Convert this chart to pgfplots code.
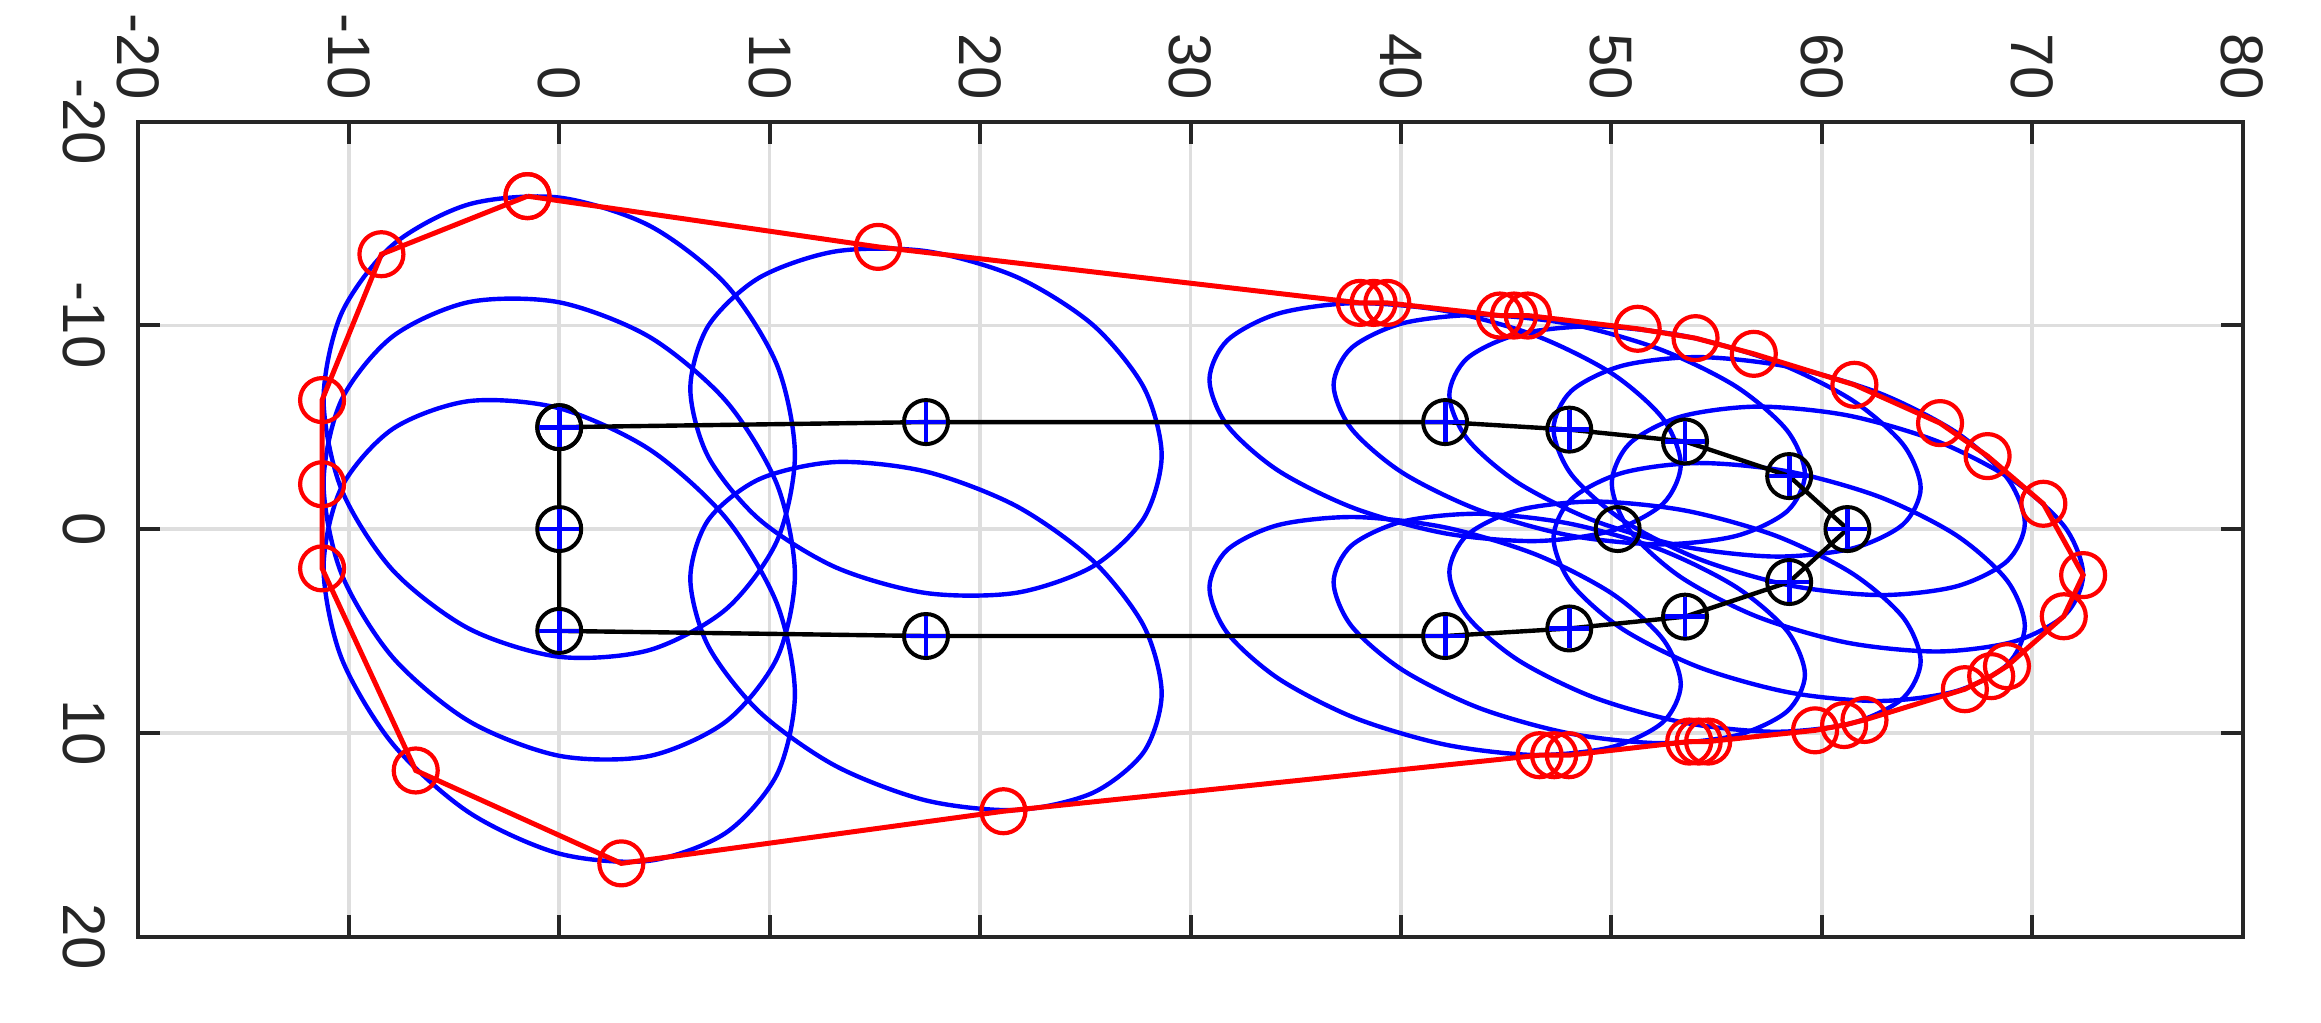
\documentclass[border=0pt]{standalone}
\usepackage{fontspec}
\setmainfont{Liberation Sans}
\usepackage{pgfplots}
\pgfplotsset{compat=1.18}

\definecolor{axgray}{rgb}{0.15,0.15,0.15}
\definecolor{gridgray}{rgb}{0.87,0.87,0.87}

\begin{document}
\begin{tikzpicture}
\begin{axis}[
  name=ax,
  scale only axis,
  width=526.1pt, height=203.75pt,
  xmin=-20, xmax=80, ymin=-20, ymax=20,
  y dir=reverse,
  xtick={-20,-10,...,80},
  ytick={-20,-10,...,20},
  xticklabels={-20,-10,0,10,20,30,40,50,60,70,80},
  yticklabels={-20,-10,0,10,20},
  xticklabel pos=top,
  tick align=inside,
  major tick length=5.5pt,
  axis line style={axgray, line width=1pt},
  tick style={axgray, line width=1pt},
  grid=major,
  grid style={gridgray, line width=0.9pt},
  ticklabel style={font=\fontsize{15}{18}\selectfont, text=axgray, inner sep=0pt},
  xticklabel style={rotate=-90, anchor=east},
  yticklabel style={rotate=-90, anchor=north},
  xticklabel shift=5.2pt,
  yticklabel shift=8.1pt,
  ellipse/.style={blue, line width=1.1pt, smooth cycle},
]
% uncertainty ellipses (closed smooth curves, each list starts on a flat side)
\addplot[ellipse] coordinates {
 (0,6.27) (-4.29,4.89) (-7.92,2.01) (-10.35,-1.95) (-11.20,-6.37) (-10.35,-10.58) (-7.92,-13.94) (-4.29,-15.94)
 (0,-16.27) (4.29,-14.89) (7.92,-12.01) (10.35,-8.05) (11.20,-3.64) (10.35,0.58) (7.92,3.94) (4.29,5.94)};
\addplot[ellipse] coordinates {
 (0,11.13) (-4.29,9.43) (-7.92,6.29) (-10.35,2.19) (-11.20,-2.24) (-10.35,-6.33) (-7.92,-9.45) (-4.29,-11.14)
 (0,-11.13) (4.29,-9.43) (7.92,-6.29) (10.35,-2.19) (11.20,2.24) (10.35,6.33) (7.92,9.45) (4.29,11.14)};
\addplot[ellipse] coordinates {
 (0,15.93) (-4.29,13.91) (-7.92,10.54) (-10.35,6.33) (-11.20,1.91) (-10.35,-2.04) (-7.92,-4.91) (-4.29,-6.28)
 (0,-5.93) (4.29,-3.91) (7.92,-0.54) (10.35,3.67) (11.20,8.09) (10.35,12.04) (7.92,14.91) (4.29,16.28)};
\addplot[ellipse] coordinates {
 (17.43,3.14) (13.14,1.88) (9.51,-0.47) (7.08,-3.55) (6.23,-6.89) (7.08,-9.97) (9.51,-12.34) (13.14,-13.63)
 (17.43,-13.64) (21.72,-12.38) (25.35,-10.03) (27.78,-6.95) (28.63,-3.62) (27.78,-0.53) (25.35,1.84) (21.72,3.13)};
\addplot[ellipse] coordinates {
 (17.43,13.32) (13.14,11.63) (9.51,8.97) (7.08,5.74) (6.23,2.43) (7.08,-0.44) (9.51,-2.45) (13.14,-3.29)
 (17.43,-2.82) (21.72,-1.13) (25.35,1.54) (27.78,4.76) (28.63,8.07) (27.78,10.94) (25.35,12.95) (21.72,13.79)};
\addplot[ellipse] coordinates {
 (42.10,0.21) (37.81,-1.01) (34.18,-2.86) (31.75,-5.08) (30.90,-7.33) (31.75,-9.26) (34.18,-10.58) (37.81,-11.09)
 (42.10,-10.71) (46.39,-9.50) (50.02,-7.64) (52.45,-5.42) (53.30,-3.17) (52.45,-1.24) (50.02,0.08) (46.39,0.59)};
\addplot[ellipse] coordinates {
 (42.10,10.58) (37.81,9.27) (34.18,7.34) (31.75,5.10) (30.90,2.88) (31.75,1.02) (34.18,-0.20) (37.81,-0.59)
 (42.10,-0.08) (46.39,1.24) (50.02,3.16) (52.45,5.40) (53.30,7.62) (52.45,9.48) (50.02,10.70) (46.39,11.09)};
\addplot[ellipse] coordinates {
 (48.00,0.31) (43.71,-0.93) (40.08,-2.76) (37.65,-4.92) (36.80,-7.07) (37.65,-8.89) (40.08,-10.10) (43.71,-10.51)
 (48.00,-10.07) (52.29,-8.83) (55.92,-7.00) (58.35,-4.84) (59.20,-2.69) (58.35,-0.87) (55.92,0.34) (52.29,0.75)};
\addplot[ellipse] coordinates {
 (48.00,10.03) (43.71,8.78) (40.08,6.92) (37.65,4.76) (36.80,2.61) (37.65,0.81) (40.08,-0.37) (43.71,-0.75)
 (48.00,-0.27) (52.29,0.99) (55.92,2.84) (58.35,5.00) (59.20,7.15) (58.35,8.95) (55.92,10.13) (52.29,10.51)};
\addplot[ellipse] coordinates {
 (53.50,0.87) (49.21,-0.40) (45.58,-2.26) (43.15,-4.43) (42.30,-6.58) (43.15,-8.38) (45.58,-9.56) (49.21,-9.95)
 (53.50,-9.47) (57.79,-8.20) (61.42,-6.34) (63.85,-4.17) (64.70,-2.02) (63.85,-0.22) (61.42,0.96) (57.79,1.35)};
\addplot[ellipse] coordinates {
 (53.50,9.51) (49.21,8.28) (45.58,6.44) (43.15,4.28) (42.30,2.12) (43.15,0.29) (45.58,-0.93) (49.21,-1.35)
 (53.50,-0.91) (57.79,0.32) (61.42,2.16) (63.85,4.32) (64.70,6.48) (63.85,8.31) (61.42,9.53) (57.79,9.95)};
\addplot[ellipse] coordinates {
 (58.45,2.76) (54.16,1.47) (50.53,-0.44) (48.10,-2.68) (47.25,-4.91) (48.10,-6.78) (50.53,-8.02) (54.16,-8.44)
 (58.45,-7.96) (62.74,-6.67) (66.37,-4.76) (68.80,-2.52) (69.65,-0.29) (68.80,1.58) (66.37,2.82) (62.74,3.24)};
\addplot[ellipse] coordinates {
 (58.45,8.02) (54.16,6.78) (50.53,4.91) (48.10,2.68) (47.25,0.44) (48.10,-1.47) (50.53,-2.76) (54.16,-3.24)
 (58.45,-2.82) (62.74,-1.58) (66.37,0.29) (68.80,2.52) (69.65,4.76) (68.80,6.67) (66.37,7.96) (62.74,8.44)};
\addplot[ellipse] coordinates {
 (61.22,5.58) (56.93,4.30) (53.30,2.36) (50.87,0.07) (50.02,-2.24) (50.87,-4.20) (53.30,-5.52) (56.93,-6.01)
 (61.22,-5.58) (65.51,-4.30) (69.14,-2.36) (71.57,-0.07) (72.42,2.24) (71.57,4.20) (69.14,5.52) (65.51,6.01)};

% outline through the nominal points
\addplot[black, line width=1.1pt, mark=o, mark size=5.5pt, mark options={line width=1pt}] coordinates {
 (0,-5) (17.43,-5.25) (42.1,-5.25) (48,-4.88) (53.5,-4.3) (58.45,-2.6) (61.22,0)
 (58.45,2.6) (53.5,4.3) (48,4.88) (42.1,5.25) (17.43,5.25) (0,5) (0,0) (0,-5)};
\addplot[only marks, black, mark=o, mark size=5.5pt, mark options={line width=1pt}] coordinates {(50.3,0)};

% ellipse centres
\addplot[only marks, blue, mark=+, mark size=5pt, mark options={line width=1.2pt}] coordinates {
 (0,-5) (0,0) (0,5) (17.43,-5.25) (17.43,5.25) (42.1,-5.25) (42.1,5.25) (48,-4.88) (48,4.88)
 (53.5,-4.3) (53.5,4.3) (58.45,-2.6) (58.45,2.6) (61.22,0)};

% convex hull
\addplot[red, line width=1.25pt, mark=o, mark size=5.5pt, mark options={line width=1.05pt}] coordinates {
 (-1.51,-16.34) (15.15,-13.85) (38.05,-11.10) (38.70,-11.10) (39.35,-11.10)
 (44.70,-10.48) (45.37,-10.48) (46.03,-10.48) (51.25,-9.83) (54.00,-9.37) (56.77,-8.60)
 (61.55,-7.08) (65.62,-5.20) (67.88,-3.58) (70.53,-1.24) (72.42,2.26) (71.50,4.28)
 (68.80,6.73) (68.05,7.22) (66.80,7.86) (62.03,9.37) (61.06,9.62) (59.68,9.88)
 (54.60,10.43) (54.15,10.43) (53.70,10.43) (47.98,11.10) (47.28,11.10) (46.59,11.10)
 (21.11,13.85) (2.95,16.41) (-6.82,11.85) (-11.27,1.93) (-11.27,-2.20) (-11.27,-6.33)
 (-8.45,-13.49) (-1.51,-16.34)};
\end{axis}
\pgfresetboundingbox
\path[use as bounding box] ([shift={(-34.6pt,-21.6pt)}]ax.south west) rectangle ([shift={(19.6pt,30.4pt)}]ax.north east);
\end{tikzpicture}
\end{document}
